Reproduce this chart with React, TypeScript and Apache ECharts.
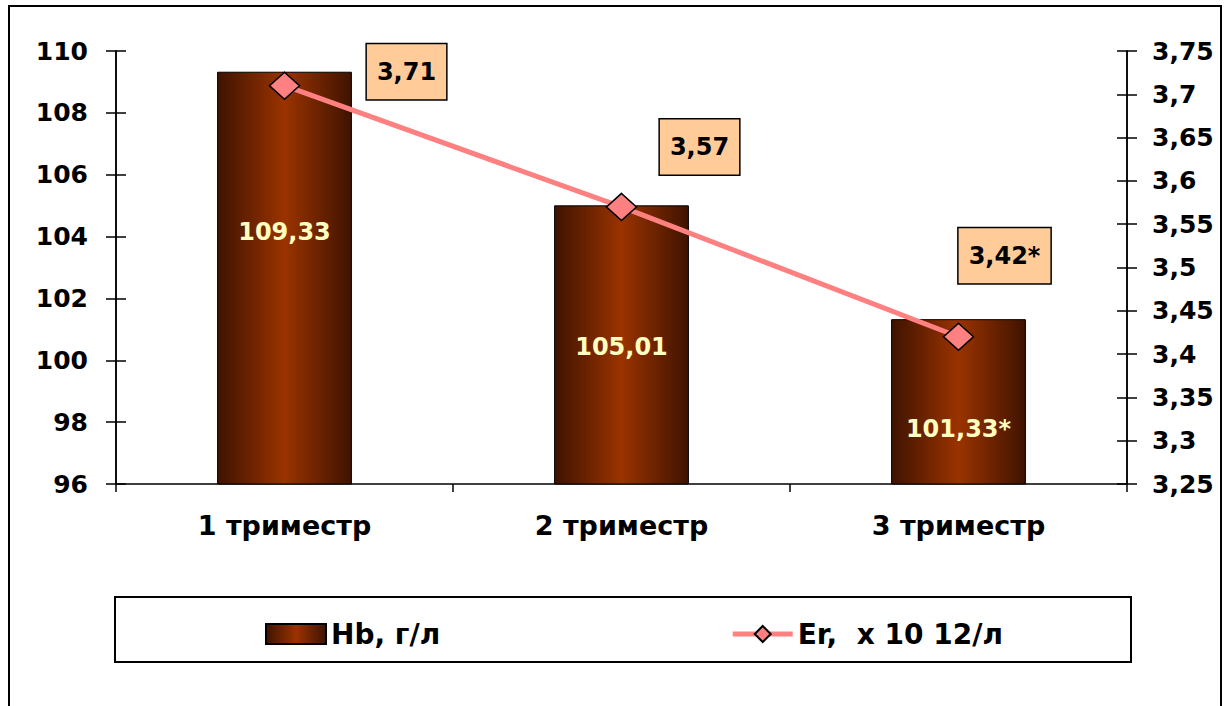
import React, { useEffect, useRef } from "react";
import * as echarts from "echarts";

const categories = ["1 триместр", "2 триместр", "3 триместр"];
const hbValues = [109.33, 105.01, 101.33];
const hbMarks = ["", "", "*"];
const erValues = [3.71, 3.57, 3.42];
const erMarks = ["", "", "*"];
const hbName = "Hb, г/л";
const erName = "Er,  x 10 12/л";

// label placement (styling only)
const hbLabelOffsets = [[0, -46], [0, 2], [0, 27]];
const erLabelOffsets = [[122, -14], [78, -60], [46, -81]];

const FONT = "DejaVu Sans";

const fmt = (v: number, decimals?: number) =>
  (decimals === undefined ? String(v) : v.toFixed(decimals)).replace(".", ",");

export default function App() {
  const ref = useRef<HTMLDivElement>(null);
  useEffect(() => {
    if (!ref.current) return;
    const chart = echarts.init(ref.current, null, { renderer: "svg" });
    const barGrad = new echarts.graphic.LinearGradient(0, 0, 1, 0, [
      { offset: 0, color: "#3f1300" },
      { offset: 0.5, color: "#9a3300" },
      { offset: 1, color: "#3f1300" },
    ]);
    const leftAxisBase = {
      type: "value",
      min: 96,
      max: 110,
      interval: 2,
      position: "left",
      axisLine: { show: true, lineStyle: { color: "#000", width: 1.5 } },
      splitLine: { show: false },
    };
    const rightAxisBase = {
      type: "value",
      min: 3.25,
      max: 3.75,
      interval: 0.05,
      position: "right",
      axisLine: { show: true, lineStyle: { color: "#000", width: 1.5 } },
      splitLine: { show: false },
    };
    const tickLabel = {
      color: "#000",
      fontFamily: FONT,
      fontWeight: "bold",
      fontSize: 25,
    };
    chart.setOption({
      animation: false,
      backgroundColor: "#fff",
      grid: { left: 116, right: 98, top: 51, bottom: 222 },
      xAxis: {
        type: "category",
        data: categories,
        boundaryGap: true,
        axisLine: { lineStyle: { color: "#000", width: 1.5 } },
        axisTick: { show: true, length: 8, lineStyle: { color: "#000", width: 1.5 } },
        axisLabel: { ...tickLabel, fontSize: 27, margin: 28 },
      },
      yAxis: [
        {
          ...leftAxisBase,
          axisTick: { show: true, length: 10, lineStyle: { color: "#000", width: 1.5 } },
          axisLabel: { ...tickLabel, margin: 28, formatter: (v: number) => fmt(v) },
        },
        {
          ...rightAxisBase,
          axisTick: { show: true, length: 10, lineStyle: { color: "#000", width: 1.5 } },
          axisLabel: {
            ...tickLabel,
            margin: 25,
            formatter: (v: number) => fmt(Math.round(v * 100) / 100),
          },
        },
        {
          ...leftAxisBase,
          axisTick: { show: true, inside: true, length: 10, lineStyle: { color: "#000", width: 1.5 } },
          axisLabel: { show: false },
        },
        {
          ...rightAxisBase,
          axisTick: { show: true, inside: true, length: 10, lineStyle: { color: "#000", width: 1.5 } },
          axisLabel: { show: false },
        },
      ],
      legend: {
        left: 260,
        top: 615,
        itemGap: 290,
        itemWidth: 60,
        itemHeight: 20,
        textStyle: { color: "#000", fontFamily: FONT, fontWeight: "bold", fontSize: 28 },
        data: [
          { name: hbName, icon: "rect" },
          { name: erName, lineStyle: { width: 5 } },
        ],
      },
      series: [
        {
          name: hbName,
          type: "bar",
          yAxisIndex: 0,
          barWidth: "40%",
          itemStyle: { color: barGrad, borderColor: "#000", borderWidth: 1 },
          data: hbValues.map((v, i) => ({
            value: v,
            label: {
              show: true,
              position: "inside",
              offset: hbLabelOffsets[i],
              formatter: fmt(v, 2) + hbMarks[i],
              color: "#ffffc0",
              fontFamily: FONT,
              fontWeight: "bold",
              fontSize: 24,
            },
          })),
          z: 2,
        },
        {
          name: erName,
          type: "line",
          yAxisIndex: 1,
          symbol: "diamond",
          symbolSize: [30, 27],
          lineStyle: { color: "#ff8080", width: 5 },
          itemStyle: { color: "#ff8080", borderColor: "#000", borderWidth: 1.5 },
          data: erValues.map((v, i) => ({
            value: v,
            label: {
              show: true,
              position: "inside",
              offset: erLabelOffsets[i],
              formatter: fmt(v, 2) + erMarks[i],
              color: "#000",
              backgroundColor: "#ffcc99",
              borderColor: "#000",
              borderWidth: 1.5,
              padding: [15, 10, 14, 10],
              lineHeight: 26,
              fontFamily: FONT,
              fontWeight: "bold",
              fontSize: 24,
            },
          })),
          z: 5,
        },
      ],
      graphic: [
        {
          type: "rect",
          shape: { x: 9, y: 6, width: 1212, height: 720 },
          style: { fill: "none", stroke: "#000", lineWidth: 2 },
          silent: true,
        },
        {
          type: "rect",
          shape: { x: 115, y: 597, width: 1016, height: 65 },
          style: { fill: "none", stroke: "#000", lineWidth: 2 },
          silent: true,
        },
      ],
    });
    return () => chart.dispose();
  }, []);
  return (
    <div
      ref={ref}
      style={{ position: "fixed", left: 0, top: 0, width: 1225, height: 706 }}
    />
  );
}
